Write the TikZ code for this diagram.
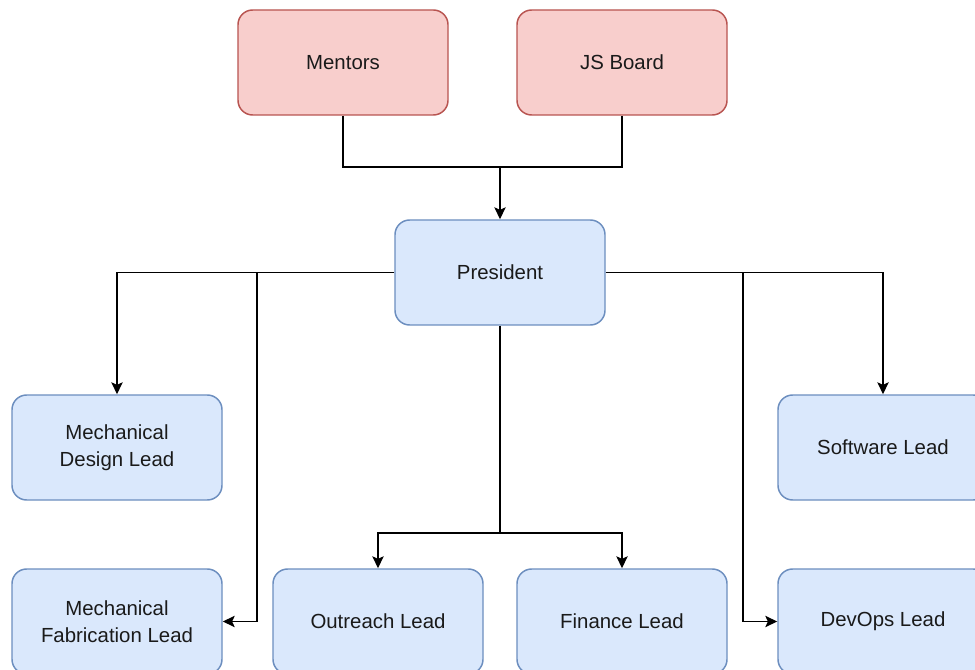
\documentclass[tikz,border=0pt]{standalone}
\usepackage{fontspec}
\setmainfont{Liberation Sans}
\usetikzlibrary{arrows.meta}
\definecolor{pinkfill}{HTML}{F8CECC}
\definecolor{pinkline}{HTML}{B85450}
\definecolor{bluefill}{HTML}{DAE8FC}
\definecolor{blueline}{HTML}{6C8EBF}
\definecolor{txt}{HTML}{1A1A1A}
\tikzset{
  box/.style={rounded corners=11pt, minimum width=157.5pt, minimum height=78.75pt,
    align=center, inner sep=0pt, line width=1.1pt, text=txt,
    font=\fontsize{15.3}{20}\selectfont},
  redbox/.style={box, draw=pinkline, fill=pinkfill},
  bluebox/.style={box, draw=blueline, fill=bluefill},
  conn/.style={line width=1.1pt, draw=black},
  arr/.style={conn, -{Stealth[length=9pt, width=8.5pt, inset=2pt]}}
}
\begin{document}
\begin{tikzpicture}[x=0.75pt,y=-0.75pt]
\useasboundingbox (0,0) rectangle (975,670);
\clip (0,0) rectangle (975,670);
\fill[white] (0,0) rectangle (975,670);

\node[redbox] (mentors) at (343,62.5) {Mentors};
\node[redbox] (js) at (622,62.5) {JS Board};
\node[bluebox] (pres) at (500,272.5) {President};
\node[bluebox] (mdesign) at (117,447.5) {Mechanical\\Design Lead};
\node[bluebox] (soft) at (883,447.5) {Software Lead};
\node[bluebox] (mfab) at (117,621.5) {Mechanical\\Fabrication Lead};
\node[bluebox] (outreach) at (378,621.5) {Outreach Lead};
\node[bluebox] (finance) at (622,621.5) {Finance Lead};
\node[bluebox] (devops) at (883,621.5) {DevOps Lead};

\coordinate (jm) at (500,167);
\coordinate (bl) at (257,272.5);
\coordinate (br) at (743,272.5);
\coordinate (bm) at (500,533);

\draw[conn] (mentors.south) |- (jm);
\draw[conn] (js.south) |- (jm);
\draw[arr] (jm) -- (pres.north);

\draw[arr] (pres.west) -| (mdesign.north);
\draw[arr] (bl) |- (mfab.east);
\draw[arr] (pres.east) -| (soft.north);
\draw[arr] (br) |- (devops.west);

\draw[conn] (pres.south) -- (bm);
\draw[arr] (bm) -| (outreach.north);
\draw[arr] (bm) -| (finance.north);
\end{tikzpicture}
\end{document}
